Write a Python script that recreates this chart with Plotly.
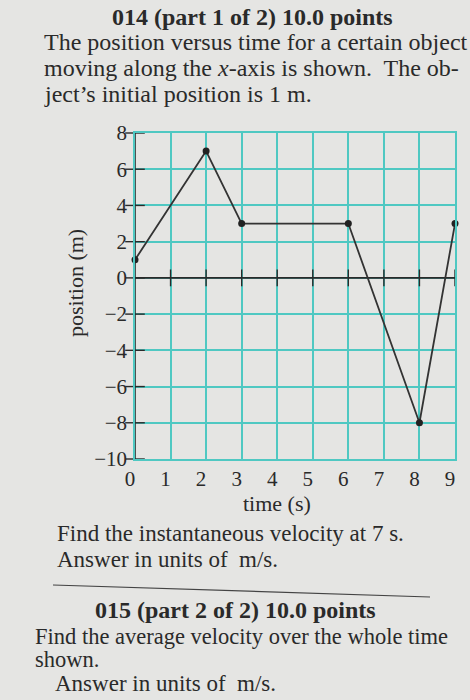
import plotly.graph_objects as go

# ---- data ----
time_s = [0, 2, 3, 6, 8, 9]
position_m = [1, 7, 3, 3, -8, 3]
x_ticks = [0, 1, 2, 3, 4, 5, 6, 7, 8, 9]
y_ticks = [-10, -8, -6, -4, -2, 0, 2, 4, 6, 8]

W, H = 470, 700
L, R, T, B = 135, 15, 133, 241
FONT = "Liberation Serif"
INK = "#2a2a2a"
BG = "#e5e5e3"
GRID = "#4fc8c2"


def px(xp, yp):
    """pixel -> paper coords"""
    pw = W - L - R
    ph = H - T - B
    return (xp - L) / pw, (H - B - yp) / ph


fig = go.Figure()

# axis lines through zero
fig.add_trace(go.Scatter(x=[min(x_ticks), max(x_ticks)], y=[0, 0], mode="lines",
                         line=dict(color=INK, width=1.6), hoverinfo="skip",
                         showlegend=False, cliponaxis=False))
fig.add_trace(go.Scatter(x=[0, 0], y=[min(y_ticks), max(y_ticks)], mode="lines",
                         line=dict(color=INK, width=1.6), hoverinfo="skip",
                         showlegend=False, cliponaxis=False))
# crossing tick marks
fig.add_trace(go.Scatter(x=x_ticks[1:], y=[0] * (len(x_ticks) - 1), mode="markers",
                         marker=dict(symbol="line-ns", size=12,
                                     line=dict(color=INK, width=1.4)),
                         hoverinfo="skip", showlegend=False, cliponaxis=False))
fig.add_trace(go.Scatter(x=[0] * len(y_ticks), y=y_ticks, mode="markers",
                         marker=dict(symbol="line-ew", size=14,
                                     line=dict(color=INK, width=1.4)),
                         hoverinfo="skip", showlegend=False, cliponaxis=False))

# position curve
fig.add_trace(go.Scatter(x=time_s, y=position_m, mode="lines+markers",
                         line=dict(color="#333333", width=1.8),
                         marker=dict(color="#222222", size=7),
                         showlegend=False, cliponaxis=False))

axis_common = dict(showgrid=True, gridcolor=GRID, gridwidth=1.5, zeroline=False,
                   showline=True, linecolor=GRID, linewidth=1.5, mirror=True,
                   ticks="", tickfont=dict(family=FONT, size=21, color=INK))

fig.update_xaxes(range=[0, 9], tickvals=x_ticks, ticklabelstandoff=0,
                 ticklabelshift=-5, **axis_common)
fig.update_yaxes(range=[-10, 8], tickvals=y_ticks, ticklabelstandoff=2, **axis_common)

# (text, x px, y px, anchor, size)
texts = [
    ("<b>014 (part 1 of 2) 10.0 points</b>", 252, 17, "center", 24),
    ("The position versus time for a certain object", 42, 42, "left", 24),
    ("moving along the <i>x</i>-axis is shown.  The ob-", 42, 68, "left", 24),
    ("ject’s initial position is 1 m.", 42, 94, "left", 24),
    ("time (s)", 277, 503, "center", 22),
    ("Find the instantaneous velocity at 7 s.", 55, 533, "left", 23),
    ("Answer in units of  m/s.", 55, 559, "left", 23),
    ("<b>015 (part 2 of 2) 10.0 points</b>", 235, 610, "center", 24),
    ("Find the average velocity over the whole time", 33, 636, "left", 22.5),
    ("shown.", 33, 659, "left", 22.5),
    ("Answer in units of  m/s.", 53, 683, "left", 23),
]
ann = []
for t, xp, yp, anchor, size in texts:
    xx, yy = px(xp, yp)
    ann.append(dict(text=t, x=xx, y=yy, xref="paper", yref="paper",
                    xanchor=anchor, yanchor="middle", showarrow=False,
                    font=dict(family=FONT, size=size, color=INK)))
xx, yy = px(75, 283)
ann.append(dict(text="position (m)", x=xx, y=yy, xref="paper", yref="paper",
                xanchor="center", yanchor="middle", showarrow=False, textangle=-90,
                font=dict(family=FONT, size=22, color=INK)))

x0, y0 = px(53, 585)
x1, y1 = px(430, 597)
shapes = [dict(type="line", xref="paper", yref="paper", x0=x0, y0=y0, x1=x1, y1=y1,
               line=dict(color="#444444", width=1.2))]

fig.update_layout(width=W, height=H, margin=dict(l=L, r=R, t=T, b=B, pad=0),
                  paper_bgcolor=BG, plot_bgcolor=BG, annotations=ann, shapes=shapes,
                  showlegend=False)

fig.write_html("out.html", config={"displayModeBar": False},
               post_script="document.body.style.margin='0';"
                           "document.body.style.background='" + BG + "';")
